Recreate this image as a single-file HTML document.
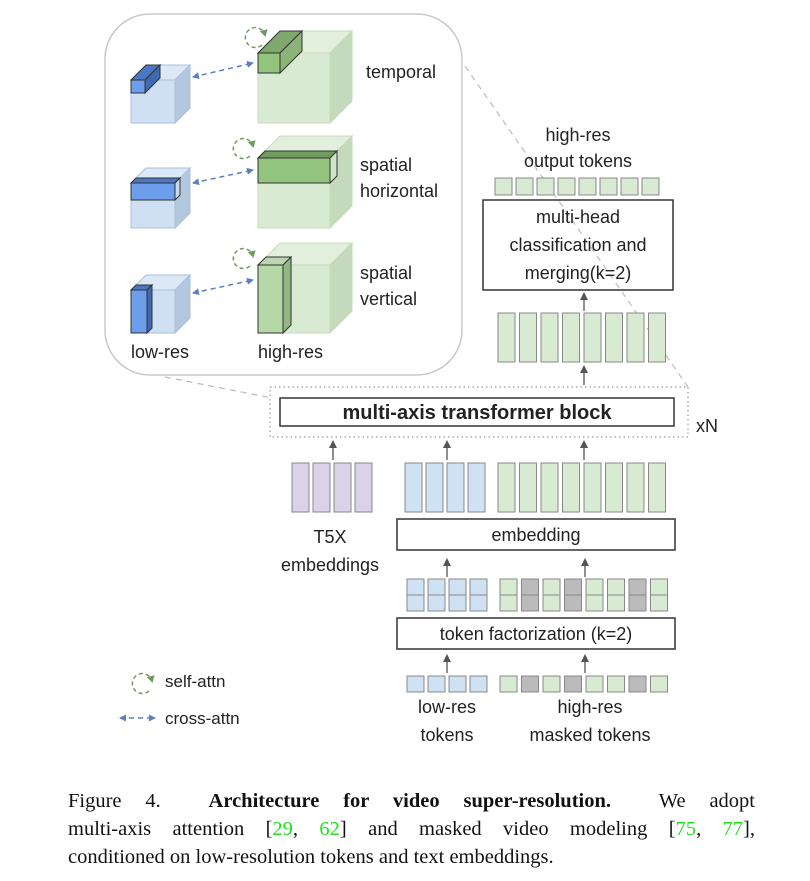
<!DOCTYPE html>
<html><head><meta charset="utf-8"><style>
html,body{margin:0;padding:0;background:#fff;}
svg{display:block;}
text{font-family:"Liberation Sans",sans-serif;fill:#222;}
.cap{position:absolute;left:68px;width:687px;font-family:"Liberation Serif",serif;font-size:20.5px;color:#111;line-height:28px;white-space:nowrap;}
.j{text-align:justify;text-align-last:justify;white-space:normal;}
.g{color:#22dd22;}
</style></head><body>
<div style="position:relative;width:810px;height:881px;">
<svg width="810" height="881" viewBox="0 0 810 881" xmlns="http://www.w3.org/2000/svg">
<defs>
<marker id="ab" markerWidth="8" markerHeight="8" refX="6" refY="4" orient="auto-start-reverse" markerUnits="userSpaceOnUse"><path d="M0,0.5 L7,4 L0,7.5 z" fill="#5b7fc0"/></marker>
<marker id="ag" markerWidth="8" markerHeight="8" refX="5" refY="4" orient="auto" markerUnits="userSpaceOnUse"><path d="M0,0 L7,4 L0,8 z" fill="#6d9a5e"/></marker>
<marker id="ak" markerWidth="8" markerHeight="8" refX="4" refY="4" orient="auto" markerUnits="userSpaceOnUse"><path d="M0,0 L8,4 L0,8 z" fill="#555"/></marker>
</defs>

<line x1="440" y1="30" x2="688" y2="387" stroke="#bbb" stroke-width="1.2" stroke-dasharray="6,5"/>
<line x1="165" y1="377" x2="272" y2="398" stroke="#bbb" stroke-width="1.2" stroke-dasharray="6,5"/>

<rect x="105" y="14" width="357" height="361" rx="45" fill="#fff" stroke="#c8c8c8" stroke-width="1.5"/>

<g stroke="#a9c1dc" stroke-width="1">
<polygon points="131,80 146,65 190,65 175,80" fill="#dce8f5"/>
<polygon points="175,80 190,65 190,108 175,123" fill="#b3c8df"/>
<rect x="131" y="80" width="44" height="43" fill="#cfe0f3"/>
</g>
<g stroke="#333" stroke-width="1">
<polygon points="131,80 146,65 160,65 145,80" fill="#4a78c4"/>
<polygon points="145,80 160,65 160,78 145,93" fill="#3d6ab3"/>
<rect x="131" y="80" width="14" height="13" fill="#6d9eeb"/>
</g>
<g stroke="#c4dcbc" stroke-width="1">
<polygon points="258,53 280,31 352,31 330,53" fill="#e2efdc"/>
<polygon points="330,53 352,31 352,101 330,123" fill="#c5d9bc"/>
<rect x="258" y="53" width="72" height="70" fill="#d9ead3"/>
</g>
<g stroke="#333" stroke-width="1">
<polygon points="258,53 280,31 302,31 280,53" fill="#7fa86c"/>
<polygon points="280,53 302,31 302,51 280,73" fill="#8ab478"/>
<rect x="258" y="53" width="22" height="20" fill="#93c47d"/>
</g>

<g stroke="#a9c1dc" stroke-width="1">
<polygon points="131,183 146,168 190,168 175,183" fill="#dce8f5"/>
<polygon points="175,183 190,168 190,213 175,228" fill="#b3c8df"/>
<rect x="131" y="183" width="44" height="45" fill="#cfe0f3"/>
</g>
<g stroke="#333" stroke-width="1">
<polygon points="131,183 136,178 180,178 175,183" fill="#4a78c4"/>
<polygon points="175,183 180,178 180,195 175,200" fill="#c9daf0"/>
<rect x="131" y="183" width="44" height="17" fill="#6d9eeb"/>
</g>
<g stroke="#c4dcbc" stroke-width="1">
<polygon points="258,158 280,136 352,136 330,158" fill="#e2efdc"/>
<polygon points="330,158 352,136 352,206 330,228" fill="#c5d9bc"/>
<rect x="258" y="158" width="72" height="70" fill="#d9ead3"/>
</g>
<g stroke="#333" stroke-width="1">
<polygon points="258,158 265,151 337,151 330,158" fill="#6f9b5c"/>
<polygon points="330,158 337,151 337,176 330,183" fill="#cfe3c6"/>
<rect x="258" y="158" width="72" height="25" fill="#93c47d"/>
</g>

<g stroke="#a9c1dc" stroke-width="1">
<polygon points="131,290 146,275 190,275 175,290" fill="#dce8f5"/>
<polygon points="175,290 190,275 190,318 175,333" fill="#b3c8df"/>
<rect x="131" y="290" width="44" height="43" fill="#cfe0f3"/>
</g>
<g stroke="#333" stroke-width="1">
<polygon points="131,290 136,285 152,285 147,290" fill="#4a78c4"/>
<polygon points="147,290 152,285 152,328 147,333" fill="#3d6ab3"/>
<rect x="131" y="290" width="16" height="43" fill="#6d9eeb"/>
</g>
<g stroke="#c4dcbc" stroke-width="1">
<polygon points="258,265 280,243 352,243 330,265" fill="#e2efdc"/>
<polygon points="330,265 352,243 352,311 330,333" fill="#c5d9bc"/>
<rect x="258" y="265" width="72" height="68" fill="#d9ead3"/>
</g>
<g stroke="#333" stroke-width="1">
<polygon points="258,265 266,257 291,257 283,265" fill="#bcd6b0"/>
<polygon points="283,265 291,257 291,325 283,333" fill="#93b784"/>
<rect x="258" y="265" width="25" height="68" fill="#b6d7a8"/>
</g>

<g fill="none" stroke="#6d9a5e" stroke-width="1.5" stroke-dasharray="4,3">
<path d="M262,45 A10,10 0 1 1 265,35" marker-end="url(#ag)"/>
<path d="M250,156 A10,10 0 1 1 253,146" marker-end="url(#ag)"/>
<path d="M250,266 A10,10 0 1 1 253,256" marker-end="url(#ag)"/>
<path d="M149,691 A10,10 0 1 1 152,681" marker-end="url(#ag)"/>
</g>
<g stroke="#5b7fc0" stroke-width="1.5" stroke-dasharray="5,4" fill="none">
<line x1="193" y1="77" x2="253" y2="63" marker-start="url(#ab)" marker-end="url(#ab)"/>
<line x1="193" y1="183" x2="253" y2="170" marker-start="url(#ab)" marker-end="url(#ab)"/>
<line x1="193" y1="293" x2="253" y2="280" marker-start="url(#ab)" marker-end="url(#ab)"/>
<line x1="120" y1="718" x2="155" y2="718" marker-start="url(#ab)" marker-end="url(#ab)"/>
</g>

<g font-size="18">
<text x="366" y="78">temporal</text>
<text x="360" y="171">spatial</text>
<text x="360" y="197">horizontal</text>
<text x="360" y="279">spatial</text>
<text x="360" y="305">vertical</text>
<text x="131" y="358">low-res</text>
<text x="258" y="358">high-res</text>
</g>

<g font-size="18" text-anchor="middle">
<text x="578" y="141">high-res</text>
<text x="578" y="167">output tokens</text>
<text x="578" y="223">multi-head</text>
<text x="578" y="251">classification and</text>
<text x="578" y="279">merging(k=2)</text>
</g>
<g fill="#d9ead3" stroke="#888" stroke-width="1">
<rect x="495" y="178" width="17" height="17"/><rect x="516" y="178" width="17" height="17"/><rect x="537" y="178" width="17" height="17"/><rect x="558" y="178" width="17" height="17"/><rect x="579" y="178" width="17" height="17"/><rect x="600" y="178" width="17" height="17"/><rect x="621" y="178" width="17" height="17"/><rect x="642" y="178" width="17" height="17"/>
</g>
<rect x="483" y="200" width="190" height="90" fill="none" stroke="#333" stroke-width="1.5"/>
<g fill="#d9ead3" stroke="#888" stroke-width="1">
<rect x="498" y="313" width="17" height="49"/><rect x="519.5" y="313" width="17" height="49"/><rect x="541" y="313" width="17" height="49"/><rect x="562.5" y="313" width="17" height="49"/><rect x="584" y="313" width="17" height="49"/><rect x="605.5" y="313" width="17" height="49"/><rect x="627" y="313" width="17" height="49"/><rect x="648.5" y="313" width="17" height="49"/>
</g>
<g stroke="#555" stroke-width="1.3" marker-end="url(#ak)">
<line x1="584" y1="311" x2="584" y2="296"/>
<line x1="584" y1="385" x2="584" y2="369"/>
<line x1="333" y1="460" x2="333" y2="444"/>
<line x1="447" y1="460" x2="447" y2="444"/>
<line x1="584" y1="460" x2="584" y2="444"/>
<line x1="447" y1="577" x2="447" y2="562"/>
<line x1="585" y1="577" x2="585" y2="562"/>
<line x1="447" y1="673" x2="447" y2="658"/>
<line x1="585" y1="673" x2="585" y2="658"/>
</g>

<rect x="270" y="387" width="418" height="50" fill="none" stroke="#999" stroke-width="1.2" stroke-dasharray="1.5,3"/>
<rect x="280" y="398" width="394" height="28" fill="#fff" stroke="#333" stroke-width="1.5"/>
<text x="477" y="419" font-size="20" font-weight="bold" text-anchor="middle">multi-axis transformer block</text>
<text x="696" y="432" font-size="18">xN</text>

<g fill="#d9d2e9" stroke="#888" stroke-width="1">
<rect x="292" y="463" width="17" height="49"/><rect x="313" y="463" width="17" height="49"/><rect x="334" y="463" width="17" height="49"/><rect x="355" y="463" width="17" height="49"/>
</g>
<g fill="#cfe2f3" stroke="#888" stroke-width="1">
<rect x="405" y="463" width="17" height="49"/><rect x="426" y="463" width="17" height="49"/><rect x="447" y="463" width="17" height="49"/><rect x="468" y="463" width="17" height="49"/>
</g>
<g fill="#d9ead3" stroke="#888" stroke-width="1">
<rect x="498" y="463" width="17" height="49"/><rect x="519.5" y="463" width="17" height="49"/><rect x="541" y="463" width="17" height="49"/><rect x="562.5" y="463" width="17" height="49"/><rect x="584" y="463" width="17" height="49"/><rect x="605.5" y="463" width="17" height="49"/><rect x="627" y="463" width="17" height="49"/><rect x="648.5" y="463" width="17" height="49"/>
</g>

<rect x="397" y="519" width="278" height="31" fill="none" stroke="#333" stroke-width="1.5"/>
<g font-size="18" text-anchor="middle">
<text x="536" y="541">embedding</text>
<text x="330" y="543">T5X</text>
<text x="330" y="571">embeddings</text>
<text x="536" y="640">token factorization (k=2)</text>
<text x="447" y="713">low-res</text>
<text x="447" y="741">tokens</text>
<text x="590" y="713">high-res</text>
<text x="590" y="741">masked tokens</text>
</g>

<g stroke="#888" stroke-width="1">
<g fill="#cfe2f3">
<rect x="407" y="579" width="17" height="16"/><rect x="407" y="595" width="17" height="16"/>
<rect x="428" y="579" width="17" height="16"/><rect x="428" y="595" width="17" height="16"/>
<rect x="449" y="579" width="17" height="16"/><rect x="449" y="595" width="17" height="16"/>
<rect x="470" y="579" width="17" height="16"/><rect x="470" y="595" width="17" height="16"/>
</g>
<rect x="500" y="579" width="17" height="16" fill="#d9ead3"/><rect x="500" y="595" width="17" height="16" fill="#d9ead3"/>
<rect x="521.5" y="579" width="17" height="16" fill="#bbb"/><rect x="521.5" y="595" width="17" height="16" fill="#bbb"/>
<rect x="543" y="579" width="17" height="16" fill="#d9ead3"/><rect x="543" y="595" width="17" height="16" fill="#d9ead3"/>
<rect x="564.5" y="579" width="17" height="16" fill="#bbb"/><rect x="564.5" y="595" width="17" height="16" fill="#bbb"/>
<rect x="586" y="579" width="17" height="16" fill="#d9ead3"/><rect x="586" y="595" width="17" height="16" fill="#d9ead3"/>
<rect x="607.5" y="579" width="17" height="16" fill="#d9ead3"/><rect x="607.5" y="595" width="17" height="16" fill="#d9ead3"/>
<rect x="629" y="579" width="17" height="16" fill="#bbb"/><rect x="629" y="595" width="17" height="16" fill="#bbb"/>
<rect x="650.5" y="579" width="17" height="16" fill="#d9ead3"/><rect x="650.5" y="595" width="17" height="16" fill="#d9ead3"/>
</g>
<rect x="397" y="618" width="278" height="31" fill="none" stroke="#333" stroke-width="1.5"/>

<g stroke="#888" stroke-width="1">
<g fill="#cfe2f3">
<rect x="407" y="676" width="17" height="16"/><rect x="428" y="676" width="17" height="16"/><rect x="449" y="676" width="17" height="16"/><rect x="470" y="676" width="17" height="16"/>
</g>
<rect x="500" y="676" width="17" height="16" fill="#d9ead3"/>
<rect x="521.5" y="676" width="17" height="16" fill="#bbb"/>
<rect x="543" y="676" width="17" height="16" fill="#d9ead3"/>
<rect x="564.5" y="676" width="17" height="16" fill="#bbb"/>
<rect x="586" y="676" width="17" height="16" fill="#d9ead3"/>
<rect x="607.5" y="676" width="17" height="16" fill="#d9ead3"/>
<rect x="629" y="676" width="17" height="16" fill="#bbb"/>
<rect x="650.5" y="676" width="17" height="16" fill="#d9ead3"/>
</g>

<text x="165" y="687" font-size="17">self-attn</text>
<text x="165" y="724" font-size="17">cross-attn</text>
</svg>
<div class="cap j" style="top:787px;">Figure 4. &nbsp;<b>Architecture for video super-resolution.</b> &nbsp;We adopt</div>
<div class="cap j" style="top:815px;">multi-axis attention [<span class="g">29</span>, <span class="g">62</span>] and masked video modeling [<span class="g">75</span>, <span class="g">77</span>],</div>
<div class="cap" style="top:843px;">conditioned on low-resolution tokens and text embeddings.</div>
</div>
</body></html>
